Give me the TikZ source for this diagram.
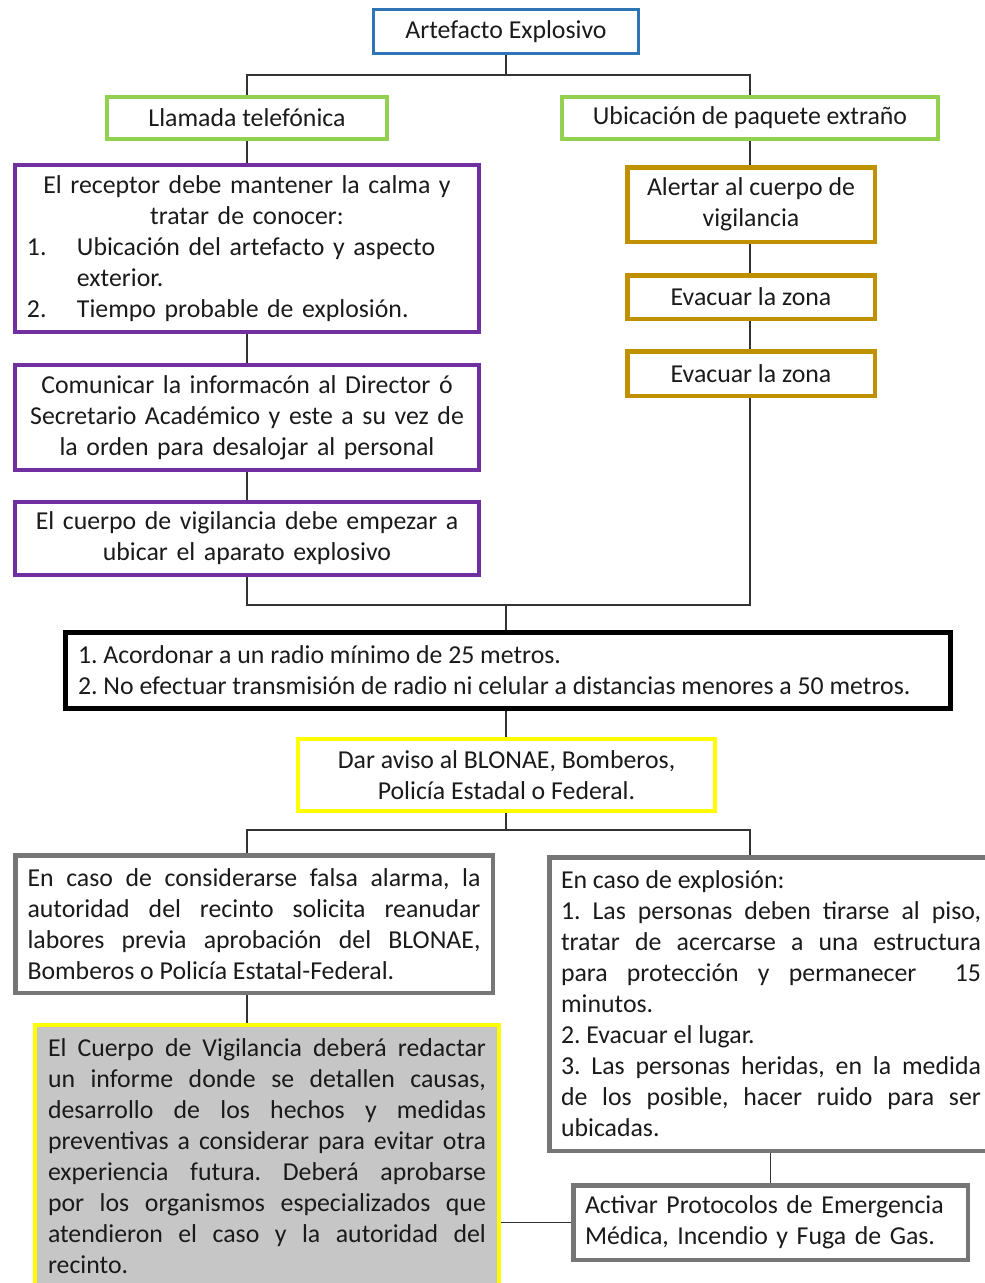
\documentclass[tikz,border=0pt]{standalone}
\usepackage{fontspec}
\setmainfont{Carlito}
\definecolor{cblue}{HTML}{2E75B6}
\definecolor{cgreen}{HTML}{92D050}
\definecolor{cpurple}{HTML}{7030A0}
\definecolor{cgold}{HTML}{BF9000}
\definecolor{cyellow}{HTML}{FFFF00}
\definecolor{cgray}{HTML}{767676}
\definecolor{cfill}{HTML}{C6C6C6}
\definecolor{txt}{HTML}{1A1A1A}
\definecolor{lin}{HTML}{333333}
\hbadness=10000
\hyphenpenalty=10000
\exhyphenpenalty=10000
\begin{document}
\frenchspacing
\begin{tikzpicture}[x=1pt,y=-1pt,
  font=\fontsize{25.8}{31}\selectfont\frenchspacing,
  bx/.style={draw, inner sep=0pt, text=txt},
  conn/.style={draw=lin, line width=1.6pt}]
\useasboundingbox (0,0) rectangle (985,1283);

% top
\node[bx, draw=cblue, line width=3pt, minimum width=265, minimum height=44] (a) at (506,31.5) {Artefacto Explosivo};
\node[bx, draw=cgreen, line width=4pt, minimum width=280, minimum height=42] (ll) at (247,118) {Llamada telefónica};
\node[bx, draw=cgreen, line width=4pt, minimum width=376, minimum height=42] (ub) at (750,118) {Ubicación de paquete extraño};

% left purple column
\node[bx, draw=cpurple, line width=4pt, minimum width=464, minimum height=167, text width=440] (p1) at (247,248.5)
  {\centering El receptor debe mantener la calma y\\ tratar de conocer:\par
   \raggedright\makebox[50pt][l]{1.}Ubicación del artefacto y aspecto\\
   \hspace*{50pt}exterior.\\
   \makebox[50pt][l]{2.}Tiempo probable de explosión.\par};
\node[bx, draw=cpurple, line width=4pt, minimum width=464, minimum height=105, text width=440, align=center] (p2) at (247,417.5)
  {Comunicar la informacón al Director ó\\ Secretario Académico y este a su vez de\\ la orden para desalojar al personal};
\node[bx, draw=cpurple, line width=4pt, minimum width=464, minimum height=73, text width=440, align=center] (p3) at (247,538.5)
  {El cuerpo de vigilancia debe empezar a\\ ubicar el aparato explosivo};

% right gold column
\node[bx, draw=cgold, line width=4.5pt, minimum width=247.5, minimum height=74.5, align=center] (g1) at (751,204.5)
  {Alertar al cuerpo de\\ vigilancia};
\node[bx, draw=cgold, line width=4.5pt, minimum width=247.5, minimum height=43.5] (g2) at (751,297) {Evacuar la zona};
\node[bx, draw=cgold, line width=4.5pt, minimum width=247.5, minimum height=44.5] (g3) at (751,373.5) {Evacuar la zona};

% middle
\node[bx, draw=black, line width=5pt, minimum width=885, minimum height=76, align=left] (blk) at (508,670.5)
  {\makebox[860pt][l]{1. Acordonar a un radio mínimo de 25 metros.}\\ \makebox[860pt][l]{2. No efectuar transmisión de radio ni celular a distancias menores a 50 metros.}};
\node[bx, draw=cyellow, line width=4pt, minimum width=417, minimum height=72, align=center] (yl) at (506.5,775)
  {Dar aviso al BLONAE, Bomberos,\\ Policía Estadal o Federal.};

% bottom
\node[bx, draw=cgray, line width=4.5pt, minimum width=477.5, minimum height=137.5, text width=453, align=justify] (gl) at (254,924)
  {En caso de considerarse falsa alarma, la\linebreak autoridad del recinto solicita reanudar\linebreak labores previa aprobación del BLONAE,\linebreak Bomberos o Policía Estatal-Federal.};
\node[bx, draw=cgray, line width=4.5pt, minimum width=443.5, minimum height=293.5, text width=420, align=justify] (gr) at (771,1004)
  {En caso de explosión:\par
   1. Las personas deben tirarse al piso,\linebreak tratar de acercarse a una estructura\linebreak para protección y permanecer~~15\linebreak minutos.\par
   2. Evacuar el lugar.\par
   3. Las personas heridas, en la medida\linebreak de los posible, hacer ruido para ser\linebreak ubicadas.};
\node[bx, draw=cyellow, fill=cfill, line width=4pt, minimum width=464, minimum height=263, text width=438, align=justify] (yb) at (267,1156.5)
  {El Cuerpo de Vigilancia deberá redactar\linebreak un informe donde se detallen causas,\linebreak desarrollo de los hechos y medidas\linebreak preventivas a considerar para evitar otra\linebreak experiencia futura. Deberá aprobarse\linebreak por los organismos especializados que\linebreak atendieron el caso y la autoridad del\linebreak recinto.};
\node[bx, draw=cgray, line width=4.5pt, minimum width=394.5, minimum height=74.5, text width=371, align=left] (act) at (770.5,1222.5)
  {Activar Protocolos de Emergencia\\ Médica, Incendio y Fuga de Gas.};

% connectors
\coordinate (j1) at (506,75);
\coordinate (j2) at (506,605);
\coordinate (j3) at (506,830);
\draw[conn] (a.south) -- (j1);
\draw[conn] (ll.north) |- (j1) -| (ub.north);
\draw[conn] (ll.south) -- (p1.north);
\draw[conn] (p1.south) -- (p2.north);
\draw[conn] (p2.south) -- (p3.north);
\draw[conn] (ub.south) -- (ub.south |- g1.north);
\draw[conn] (g1.south -| ub.south) -- (g2.north -| ub.south);
\draw[conn] (g2.south -| ub.south) -- (g3.north -| ub.south);
\draw[conn] (p3.south) |- (j2) -| (g3.south -| ub.south);
\draw[conn] (j2) -- (blk.north -| j2);
\draw[conn] (blk.south -| j2) -- (yl.north -| j2);
\draw[conn] (yl.south -| j3) -- (j3);
\draw[conn] (gl.north -| ll.south) |- (j3) -| (gr.north -| ub.south);
\draw[conn] (gl.south -| ll.south) -- (yb.north -| ll.south);
\draw[conn] (gr.south -| act.north) -- (act.north);
\draw[conn] (act.west) -- (act.west -| yb.east);
\end{tikzpicture}
\end{document}
